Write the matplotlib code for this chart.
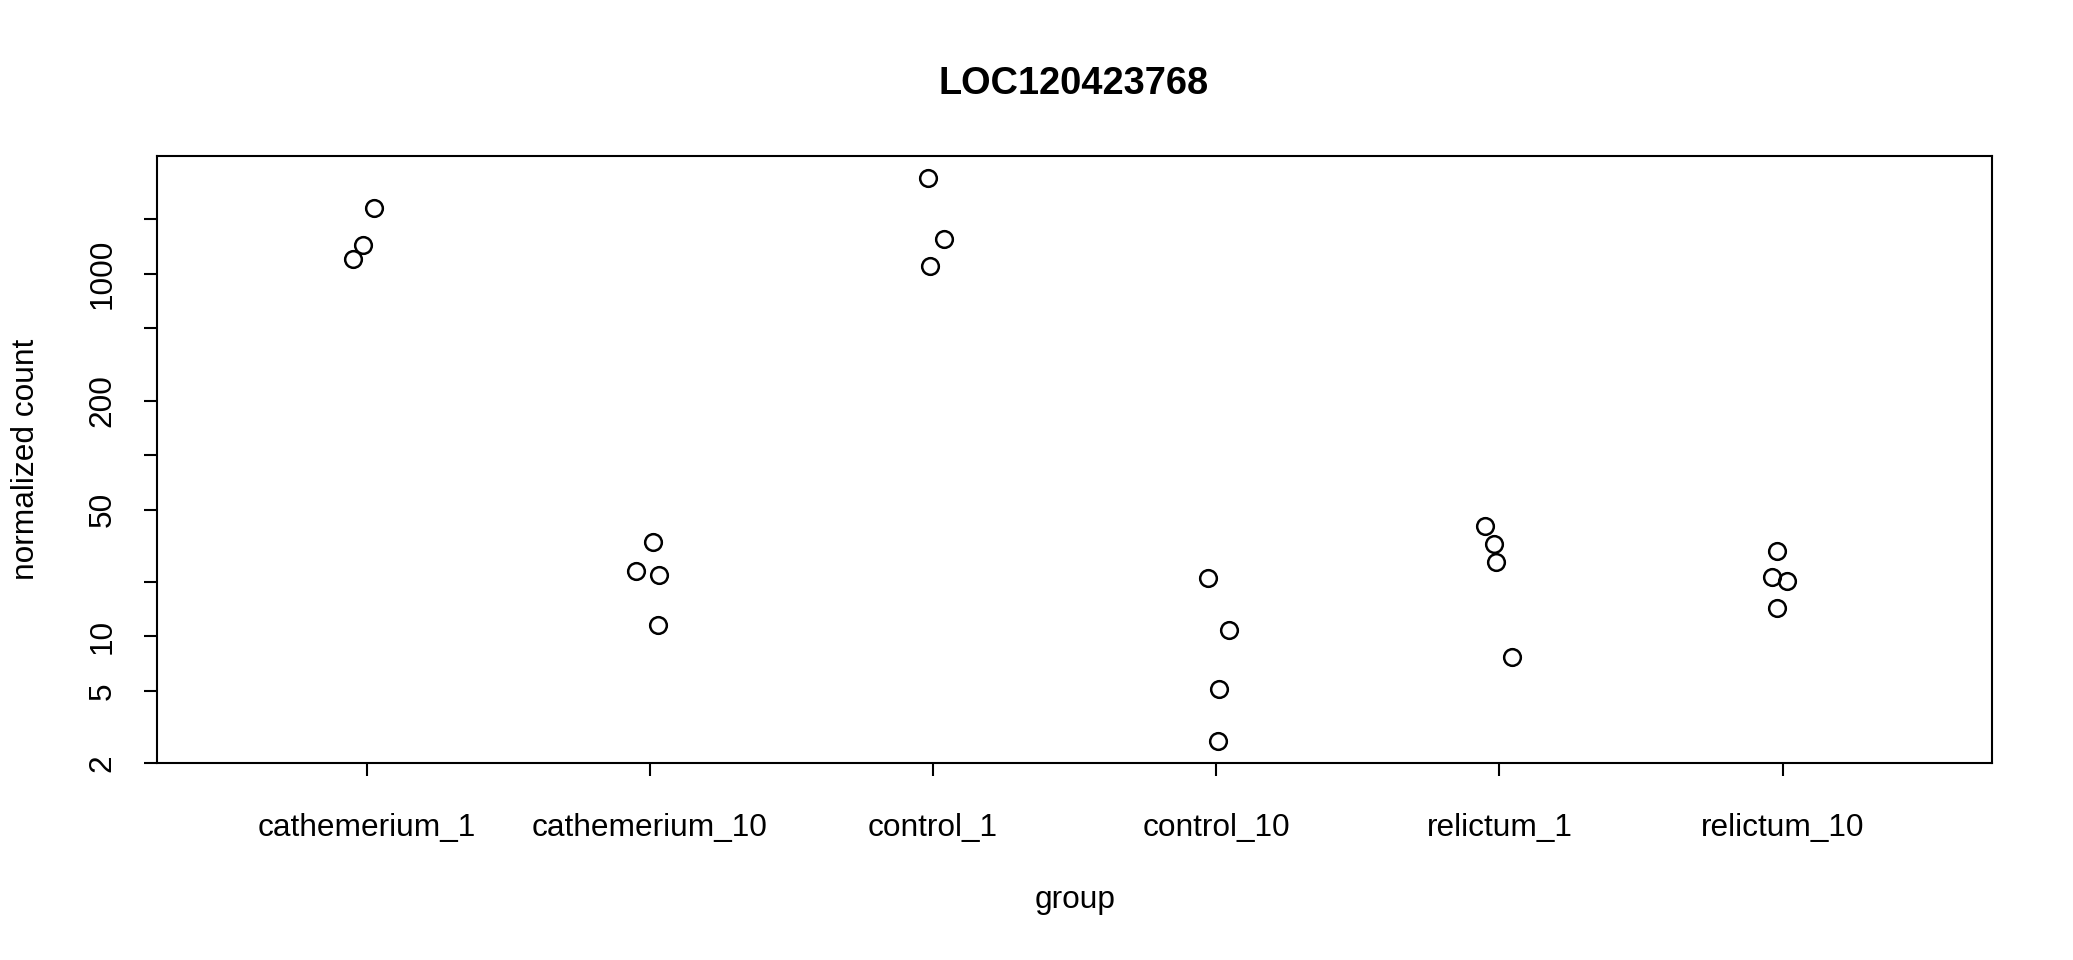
import numpy as np
import matplotlib
matplotlib.use("Agg")
import matplotlib.pyplot as plt

plt.rcParams['font.family'] = ['Liberation Sans', 'DejaVu Sans']

# data (normalized counts per sample, plus horizontal jitter)
groups = ["cathemerium_1", "cathemerium_10", "control_1", "control_10", "relictum_1", "relictum_10"]
counts = [
    [2300, 1440, 1210],
    [33.2, 23.0, 21.9, 11.6],
    [3360, 1560, 1110],
    [21.0, 10.9, 5.14, 2.64],
    [40.8, 32.4, 25.7, 7.71],
    [29.6, 21.3, 20.2, 14.4],
]
jitter = [
    [0.025, -0.011, -0.049],
    [0.011, -0.049, 0.033, 0.028],
    [-0.019, 0.039, -0.011],
    [-0.030, 0.047, 0.011, 0.006],
    [-0.049, -0.019, -0.013, 0.043],
    [-0.021, -0.039, 0.015, -0.019],
]
ytick_vals = [2, 5, 10, 20, 50, 100, 200, 500, 1000, 2000]
ytick_labels = ["2", "5", "10", "", "50", "", "200", "", "1000", ""]

fig = plt.figure(figsize=(10.365, 4.8), dpi=200)
ax = fig.add_axes([0.0757, 0.2052, 0.961 - 0.0757, 0.8375 - 0.2052])

for i, (c, j) in enumerate(zip(counts, jitter)):
    x = np.full(len(c), i + 1) + np.array(j)
    ax.plot(x, c, 'o', mfc='none', mec='black', ms=6, mew=0.9, ls='none')

ax.set_yscale('log')
ax.set_ylim(2, 4470)
ax.set_xlim(0.26, 6.74)
ax.minorticks_off()
ax.set_yticks(ytick_vals)
ax.set_yticklabels(ytick_labels, rotation=90, va='center')
ax.set_xticks(range(1, len(groups) + 1))
ax.set_xticklabels(groups)
ax.tick_params(axis='both', length=4.7, width=0.75, labelsize=11.4)
ax.tick_params(axis='x', pad=13.4)
ax.tick_params(axis='y', pad=9.5)

for s in ax.spines.values():
    s.set_linewidth(0.75)

fig.text(0.518, 0.912, "LOC120423768", ha='center', va='center', fontsize=13.7, fontweight='bold')
fig.text(0.5184, 0.0625, "group", ha='center', va='center', fontsize=11.4)
fig.text(0.0125, 0.521, "normalized count", ha='center', va='center', rotation=90, fontsize=11.4)

fig.savefig("out.png", dpi=200)
